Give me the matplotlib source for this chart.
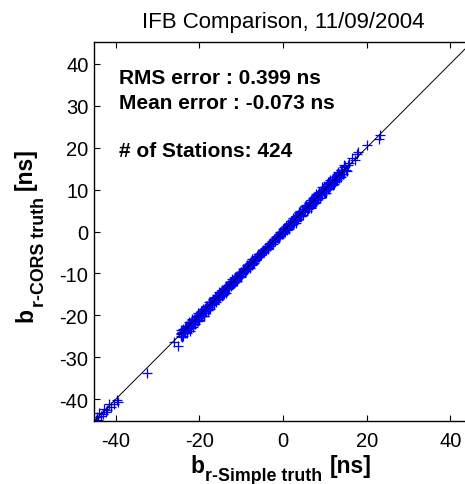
import numpy as np
import matplotlib
matplotlib.use("Agg")
import matplotlib.pyplot as plt

plt.rcParams['font.family'] = ['Liberation Sans', 'DejaVu Sans']
plt.rcParams['axes.unicode_minus'] = False

# Inter-frequency bias per station: simple-model truth (x) and its
# difference to the CORS truth (cors - simple), in ns
low_simple = [-44.8, -44.5, -44.2, -43.9, -43.6, -43.1, -42.8, -42.4, -42.0, -41.6,
              -41.2, -40.5, -39.8, -39.4]
low_diff = [-0.2, 0.3, -0.7, 0.5, -0.4, -0.4, 0.5, -0.6, -0.6, 0.4,
            -0.7, -0.6, -0.4, -1.2]

mid_simple = [-32.6, -26.0, -25.1]
mid_diff = [-1.2, -0.3, -2.2]

high_simple = [15.8, 16.4, 17.2, 17.6, 18.0, 20.2, 22.9, 23.2]
high_diff = [0.5, 1.1, -0.2, 0.8, 0.9, 0.4, -0.9, -0.2]

band_simple = [
    -24.5, -24.4, -24.3, -24.3, -24.1, -24.0, -23.9, -23.7, -23.6, -23.5,
    -23.4, -23.2, -23.1, -23.0, -22.9, -22.8, -22.6, -22.5, -22.5, -22.3,
    -22.2, -22.1, -21.9, -21.8, -21.7, -21.5, -21.4, -21.3, -21.2, -21.0,
    -20.9, -20.8, -20.6, -20.5, -20.4, -20.2, -20.1, -20.0, -19.8, -19.7,
    -19.6, -19.5, -19.3, -19.2, -19.1, -19.0, -18.8, -18.7, -18.6, -18.4,
    -18.3, -18.2, -18.1, -17.9, -17.8, -17.6, -17.5, -17.4, -17.3, -17.1,
    -17.0, -16.9, -16.7, -16.6, -16.5, -16.3, -16.2, -16.1, -15.9, -15.8,
    -15.7, -15.5, -15.4, -15.3, -15.2, -15.0, -14.9, -14.7, -14.6, -14.5,
    -14.4, -14.2, -14.1, -14.0, -13.8, -13.7, -13.6, -13.4, -13.3, -13.2,
    -13.1, -12.9, -12.8, -12.7, -12.5, -12.4, -12.3, -12.2, -12.0, -11.9,
    -11.8, -11.6, -11.5, -11.4, -11.3, -11.1, -11.0, -10.9, -10.7, -10.6,
    -10.5, -10.4, -10.2, -10.1, -10.0, -9.8, -9.7, -9.6, -9.5, -9.3,
    -9.2, -9.1, -8.9, -8.8, -8.7, -8.6, -8.4, -8.3, -8.2, -8.0,
    -7.9, -7.8, -7.7, -7.5, -7.4, -7.3, -7.1, -7.0, -6.9, -6.8,
    -6.6, -6.5, -6.4, -6.2, -6.1, -6.0, -5.9, -5.7, -5.6, -5.5,
    -5.3, -5.2, -5.0, -4.8, -4.7, -4.5, -4.3, -4.1, -3.9, -3.7,
    -3.5, -3.4, -3.2, -3.0, -2.8, -2.6, -2.5, -2.3, -2.1, -1.9,
    -1.8, -1.6, -1.5, -1.3, -1.2, -1.0, -0.9, -0.7, -0.6, -0.4,
    -0.3, -0.2, 0.0, 0.1, 0.2, 0.4, 0.5, 0.6, 0.7, 0.9,
    1.0, 1.1, 1.2, 1.4, 1.5, 1.6, 1.7, 1.9, 2.0, 2.1,
    2.2, 2.4, 2.5, 2.6, 2.7, 2.9, 3.0, 3.1, 3.2, 3.4,
    3.5, 3.6, 3.7, 3.9, 4.0, 4.1, 4.2, 4.4, 4.5, 4.6,
    4.7, 4.8, 5.0, 5.1, 5.2, 5.3, 5.5, 5.6, 5.7, 5.8,
    6.0, 6.1, 6.2, 6.3, 6.5, 6.6, 6.7, 6.8, 7.0, 7.1,
    7.2, 7.3, 7.4, 7.6, 7.7, 7.8, 7.9, 8.1, 8.2, 8.3,
    8.4, 8.6, 8.7, 8.8, 8.9, 9.1, 9.2, 9.3, 9.4, 9.6,
    9.7, 9.8, 9.9, 10.1, 10.2, 10.3, 10.4, 10.6, 10.7, 10.8,
    10.9, 11.1, 11.2, 11.3, 11.5, 11.6, 11.7, 11.9, 12.0, 12.1,
    12.3, 12.4, 12.5, 12.7, 12.8, 12.9, 13.1, 13.2, 13.4, 13.5,
    13.6, 13.8, 13.9, 14.1, 14.2, 14.4, 14.5, 14.7, 14.9, 15.2,
    -24.15, -23.85, -23.35, -22.75, -22.35, -21.65, -21.15, -20.75, -20.35, -19.95,
    -19.45, -18.95, -18.55, -18.05, -17.65, -17.25, -16.85, -16.45, -16.05, -15.65,
    -15.15, -14.85, -14.35, -13.95, -13.55, -13.05, -12.65, -12.15, -11.75, -11.25,
    -10.85, -10.35, -9.95, -9.45, -8.95, -8.55, -8.05, -7.65, -7.25, -6.75,
    -6.35, -5.85, -5.45, -4.95, -4.25, -3.65, -2.95, -2.45, -1.75, -1.15,
    -0.55, -0.05, 0.35, 0.85, 1.35, 1.85, 2.35, 2.85, 3.35, 3.85,
    4.35, 4.95, 5.45, 5.95, 6.45, 6.95, 7.45, 7.95, 8.45, 8.95,
    9.45, 9.95, 10.45, 10.95, 11.45, 11.85, 12.25, 12.65, 13.05, 13.45,
    13.85, 14.25, 14.65, 15.05, 15.45, -21.05, -18.85, -12.45, 1.25, 6.85,
    -23.25, -17.75, -15.85, -9.05, -5.15, 0.55, 3.05, 7.55, 10.05,
]
band_diff = [
    0.3, -0.5, 0.8, -0.2, 0.1, -0.9, 0.4, 0.0, -0.3, 0.6,
    -0.7, 0.2, 0.5, -1.1, 0.3, -0.4, 0.9, -0.1, -0.6, 0.2,
    0.4, -0.8, 0.1, 0.7, -0.3, -1.3, 0.2, 0.5, -0.5, 0.0,
    0.6, -0.2, -0.7, 0.3, 0.9, -0.4, 0.1, -1.0, 0.4, -0.1,
    -0.3, 0.5, -0.9, 0.2, 0.7, -0.5, -1.4, 0.3, 0.0, 0.6,
    -0.6, 0.1, 0.4, -0.8, 0.2, -0.3, 0.8, -1.2, 0.5, -0.2,
    0.3, -0.4, 0.6, -0.1, -0.9, 0.2, 0.5, -0.6, 0.0, 0.7,
    -0.5, 0.2, -0.2, 0.9, -0.7, 0.4, -0.3, 0.1, 0.6, -0.8,
    0.1, -0.6, 0.5, -0.3, 0.3, -0.9, 0.7, -0.1, 0.2, -0.4,
    0.4, -0.2, -0.7, 0.6, 0.0, -0.5, 0.3, 0.8, -0.3, 0.1,
    -0.4, 0.3, 0.6, -0.6, 0.1, -0.2, 0.5, -0.8, 0.2, 0.0,
    0.5, -0.3, 0.2, -0.7, 0.4, 0.0, -0.5, 0.7, -0.1, 0.3,
    -0.2, 0.4, -0.6, 0.1, 0.6, -0.4, 0.2, -0.3, 0.5, -0.7,
    0.3, -0.1, 0.5, -0.5, 0.0, 0.7, -0.3, 0.2, -0.6, 0.4,
    -0.3, 0.2, -0.5, 0.4, 0.1, -0.2, 0.6, -0.4, 0.3, 0.0,
    0.2, -0.4, 0.3, -0.1, 0.4, -0.3, 0.1, -0.2, 0.3, -0.5,
    0.1, 0.3, -0.3, 0.2, -0.1, 0.4, -0.4, 0.0, 0.3, -0.2,
    -0.4, 0.2, 0.5, -0.3, 0.1, -0.6, 0.3, -0.1, 0.4, 0.0,
    0.3, -0.5, 0.1, 0.6, -0.2, 0.4, -0.7, 0.2, 0.5, -0.3,
    -0.1, 0.7, -0.4, 0.2, -0.8, 0.5, 0.0, -0.3, 0.6, -0.5,
    0.4, -0.2, 0.8, -0.6, 0.1, 0.3, -0.9, 0.5, -0.1, 0.2,
    -0.6, 0.3, 0.0, 0.7, -0.4, 0.9, -0.2, -0.7, 0.4, 0.1,
    0.5, -0.8, 0.2, -0.3, 1.0, -0.5, 0.3, 0.6, -0.9, 0.0,
    -0.2, 0.6, -0.7, 0.4, 0.1, -1.0, 0.8, -0.3, 0.5, -0.6,
    0.7, -0.4, 0.2, -0.9, 0.5, 0.0, 1.1, -0.6, 0.3, -0.2,
    -0.5, 0.9, -0.1, 0.4, -0.8, 0.6, -0.3, 1.2, -0.7, 0.2,
    0.3, -0.6, 0.8, -0.2, 0.5, -1.1, 0.1, 0.7, -0.4, 0.9,
    -0.8, 0.4, -0.3, 1.0, -0.5, 0.2, 0.6, -0.9, 0.3, -0.1,
    0.6, -0.7, 0.4, -0.2, 0.9, -0.5, 0.1, 1.1, -0.6, 0.3,
    -0.4, 0.8, -0.9, 0.5, 0.2, -0.6, 1.0, -0.3, 0.7, -0.8,
    -0.9, 0.5, -0.4, 0.2, -1.5, 0.7, -0.2, 0.4, -1.1, 0.3,
    0.6, -1.3, 0.1, -0.6, 0.8, -0.3, 0.4, -0.8, 0.2, -0.5,
    -0.2, 0.5, -0.7, 0.3, 0.0, -0.4, 0.6, -0.1, 0.3, -0.6,
    0.2, -0.3, 0.4, -0.5, 0.1, 0.3, -0.2, 0.5, -0.4, 0.0,
    -0.3, 0.4, 0.1, -0.2, 0.3, -0.4, 0.2, -0.1, 0.5, -0.3,
    0.4, -0.2, 0.6, -0.5, 0.3, 0.7, -0.4, 0.2, -0.6, 0.5,
    -0.7, 0.3, 0.9, -0.5, 0.6, -0.2, 0.8, -0.9, 0.4, -0.3,
    0.5, -0.8, 0.2, 0.9, -0.4, 0.6, -1.0, 0.3, 0.7, -0.5,
    0.8, -0.6, 1.1, -0.3, 0.4, -0.9, -1.2, 0.5, -0.2, 0.6,
    0.2, -0.7, 0.5, -0.3, 0.1, 0.4, -0.5, 0.7, -0.4,
]

axis_limits = [-45.2, 45.2]
x_ticks = [-40, -20, 0, 20, 40]
y_ticks = [-40, -30, -20, -10, 0, 10, 20, 30, 40]

title_text = 'IFB Comparison, 11/09/2004'
stats_lines = ['RMS error : 0.399 ns', 'Mean error : -0.073 ns', '# of Stations: 424']
x_label_parts = ['b', 'r-Simple truth', '[ns]']
y_label_parts = ['b', 'r-CORS truth', '[ns]']

simple = np.concatenate([low_simple, mid_simple, band_simple, high_simple])
diff = np.concatenate([low_diff, mid_diff, band_diff, high_diff])
cors = simple + diff

fig = plt.figure(figsize=(4.65, 4.85), dpi=100)
ax = fig.add_axes([94 / 465, 63 / 485, 378 / 465, 379 / 485])

ax.plot(simple, cors, linestyle='none', marker='+', color=(0, 0, 1),
        markersize=7.2, markeredgewidth=0.9, zorder=2)
ax.plot(axis_limits, axis_limits, color='black', linewidth=0.7, zorder=3)

ax.set_xlim(axis_limits)
ax.set_ylim(axis_limits)
ax.set_xticks(x_ticks)
ax.set_yticks(y_ticks)
ax.tick_params(direction='in', top=True, right=True, length=4, width=0.8,
               labelsize=14.5, colors='black')
ax.tick_params(axis='x', pad=7)
ax.tick_params(axis='y', pad=4)
for sp in ax.spines.values():
    sp.set_linewidth(1.0)

ax.set_title(title_text, fontsize=16, pad=11)

# Axis labels: big bold symbol, bold subscript, then the unit
main_fs, sub_fs, unit_gap = 16.5, 12.8, 5.5
bold = dict(fontweight='bold', color='black')

xl_y = -0.1346
xb = ax.text(0.254, xl_y, x_label_parts[0], transform=ax.transAxes,
             fontsize=main_fs, ha='left', va='baseline', **bold)
xs = ax.annotate(x_label_parts[1], xy=(1, xl_y), xycoords=(xb, 'axes fraction'),
                 xytext=(0.6, -5.5), textcoords='offset points',
                 fontsize=sub_fs, ha='left', va='baseline', **bold)
ax.annotate(x_label_parts[2], xy=(1, xl_y), xycoords=(xs, 'axes fraction'),
            xytext=(unit_gap, 0), textcoords='offset points',
            fontsize=main_fs, ha='left', va='baseline', **bold)

yl_x = -0.164
rot = dict(rotation=90, rotation_mode='anchor', ha='left', va='baseline')
yb = ax.text(yl_x, 0.2639, y_label_parts[0], transform=ax.transAxes,
             fontsize=main_fs, **rot, **bold)
ys = ax.annotate(y_label_parts[1], xy=(yl_x, 1), xycoords=('axes fraction', yb),
                 xytext=(8.5, 0.6), textcoords='offset points',
                 fontsize=sub_fs, **rot, **bold)
ax.annotate(y_label_parts[2], xy=(yl_x, 1), xycoords=('axes fraction', ys),
            xytext=(0, unit_gap), textcoords='offset points',
            fontsize=main_fs, **rot, **bold)

stats_y = [35.4, 29.5, 18.0]
for line, yv in zip(stats_lines, stats_y):
    ax.text(-39.3, yv, line, fontsize=15, fontweight='bold',
            ha='left', va='baseline')

fig.savefig('out.png', dpi=100)
